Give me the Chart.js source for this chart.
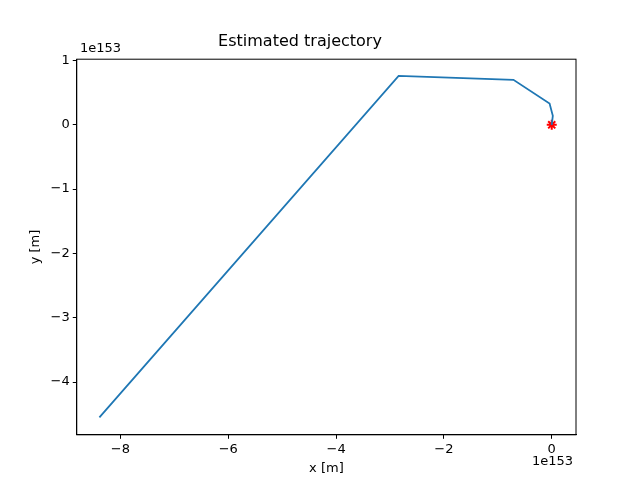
<!DOCTYPE html>
<html>
<head>
<meta charset="utf-8">
<script src="https://cdn.jsdelivr.net/npm/chart.js@4"></script>
<style>
  body { margin: 0; background: #fff; }
  #wrap { position: relative; width: 640px; height: 480px; }
  .off { position: absolute; font: 13px "DejaVu Sans", sans-serif; color: #000; }
</style>
</head>
<body>
<div id="wrap">
  <canvas id="chart" width="640" height="480"></canvas>
  <div class="off" style="left:80px; top:40px;">1e153</div>
  <div class="off" style="left:532px; top:453px;">1e153</div>
</div>
<script>
// Trajectory in units of 1e153 m
const trajX = [-8.39, -2.84, -0.71, -0.04, 0.02, 0.0];
const trajY = [-4.55, 0.76, 0.70, 0.33, 0.14, 0.0];
const startX = [0.0];
const startY = [0.0];
const xTicks = [-8, -6, -4, -2, 0];
const yTicks = [1, 0, -1, -2, -3, -4];

const font = { family: 'DejaVu Sans', size: 13 };
const fmt = v => (v < 0 ? '\u2212' + (-v) : String(v));

// draw full frame round the plot area
const frame = {
    id: 'frame',
    afterDraw(chart) {
        const { ctx, chartArea: a } = chart;
        ctx.save();
        ctx.strokeStyle = '#000';
        ctx.lineWidth = 1;
        ctx.strokeRect(a.left, a.top, a.right - a.left, a.bottom - a.top);
        ctx.restore();
    }
};

const axisGrid = { display: true, drawOnChartArea: false, drawTicks: true, tickLength: 4, color: '#000' };

new Chart(document.getElementById('chart'), {
    type: 'scatter',
    data: {
        datasets: [{
            data: trajX.map((x, i) => ({ x, y: trajY[i] })),
            showLine: true,
            borderColor: '#1f77b4',
            borderWidth: 1.8,
            pointRadius: 0,
            tension: 0
        }, {
            data: startX.map((x, i) => ({ x, y: startY[i] })),
            pointStyle: 'star',
            pointRadius: 5,
            borderColor: 'red',
            backgroundColor: 'red',
            borderWidth: 2
        }]
    },
    plugins: [frame],
    options: {
        responsive: false,
        animation: false,
        layout: { padding: { left: 24, right: 64, top: 10, bottom: 0 } },
        plugins: {
            legend: { display: false },
            tooltip: { enabled: false },
            title: {
                display: true,
                text: 'Estimated trajectory',
                color: '#000',
                font: { family: 'DejaVu Sans', size: 16, weight: 'normal' },
                padding: { top: 22, bottom: 8 }
            }
        },
        scales: {
            x: {
                min: -8.81, max: 0.45,
                title: { display: true, text: 'x [m]', color: '#000', font, padding: { top: 0 } },
                afterBuildTicks: s => { s.ticks = xTicks.map(v => ({ value: v })); },
                ticks: { color: '#000', font, callback: v => fmt(v) },
                grid: axisGrid,
                border: { color: '#000' }
            },
            y: {
                min: -4.82, max: 1.02,
                title: { display: true, text: 'y [m]', color: '#000', font },
                afterBuildTicks: s => { s.ticks = yTicks.map(v => ({ value: v })); },
                ticks: { color: '#000', font, callback: v => fmt(v) },
                grid: axisGrid,
                border: { color: '#000' }
            }
        }
    }
});
</script>
</body>
</html>
